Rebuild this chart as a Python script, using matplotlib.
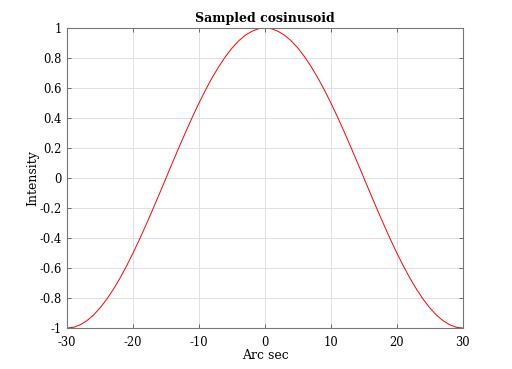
import matplotlib
matplotlib.use('Agg')
import matplotlib.pyplot as plt

# sample positions (arc sec) and intensities
arc_sec = list(range(-30, 31))
half = [1.0, 0.995, 0.978, 0.951, 0.914, 0.866, 0.809, 0.743, 0.669, 0.588,
        0.5, 0.407, 0.309, 0.208, 0.105, 0.0, -0.105, -0.208, -0.309, -0.407,
        -0.5, -0.588, -0.669, -0.743, -0.809, -0.866, -0.914, -0.951, -0.978,
        -0.995, -1.0]
intensity = half[::-1] + half[1:]

x_ticks = [-30, -20, -10, 0, 10, 20, 30]
y_ticks = [-1, -0.8, -0.6, -0.4, -0.2, 0, 0.2, 0.4, 0.6, 0.8, 1]
y_labels = ['-1', '-0.8', '-0.6', '-0.4', '-0.2', '0', '0.2', '0.4', '0.6', '0.8', '1']

plt.rcParams['font.family'] = ['DejaVu Serif']

fig = plt.figure(figsize=(5.12, 3.69), dpi=100)
ax = fig.add_axes([0.131, 0.111, 0.773, 0.813])
ax.plot(arc_sec, intensity, color='#ff0000', linewidth=0.7)

ax.set_xlim(-30, 30)
ax.set_ylim(-1, 1)
ax.set_xticks(x_ticks)
ax.set_xticklabels([str(t) for t in x_ticks])
ax.set_yticks(y_ticks)
ax.set_yticklabels(y_labels)
ax.grid(True, color='#e0e0e0', linewidth=0.7)
ax.set_axisbelow(True)

ax.tick_params(direction='in', top=True, right=True, length=3, width=0.6,
               color='#555555', labelsize=8.3)
ax.tick_params(axis='x', pad=6)
ax.tick_params(axis='y', pad=4)
for sp in ax.spines.values():
    sp.set_color('#777777')
    sp.set_linewidth(0.8)

ax.set_title('Sampled cosinusoid', fontsize=9, fontweight='bold', pad=4)
ax.set_xlabel('Arc sec', fontsize=9, labelpad=0)
ax.set_ylabel('Intensity', fontsize=9, labelpad=0)

fig.savefig('out.png', dpi=100)
